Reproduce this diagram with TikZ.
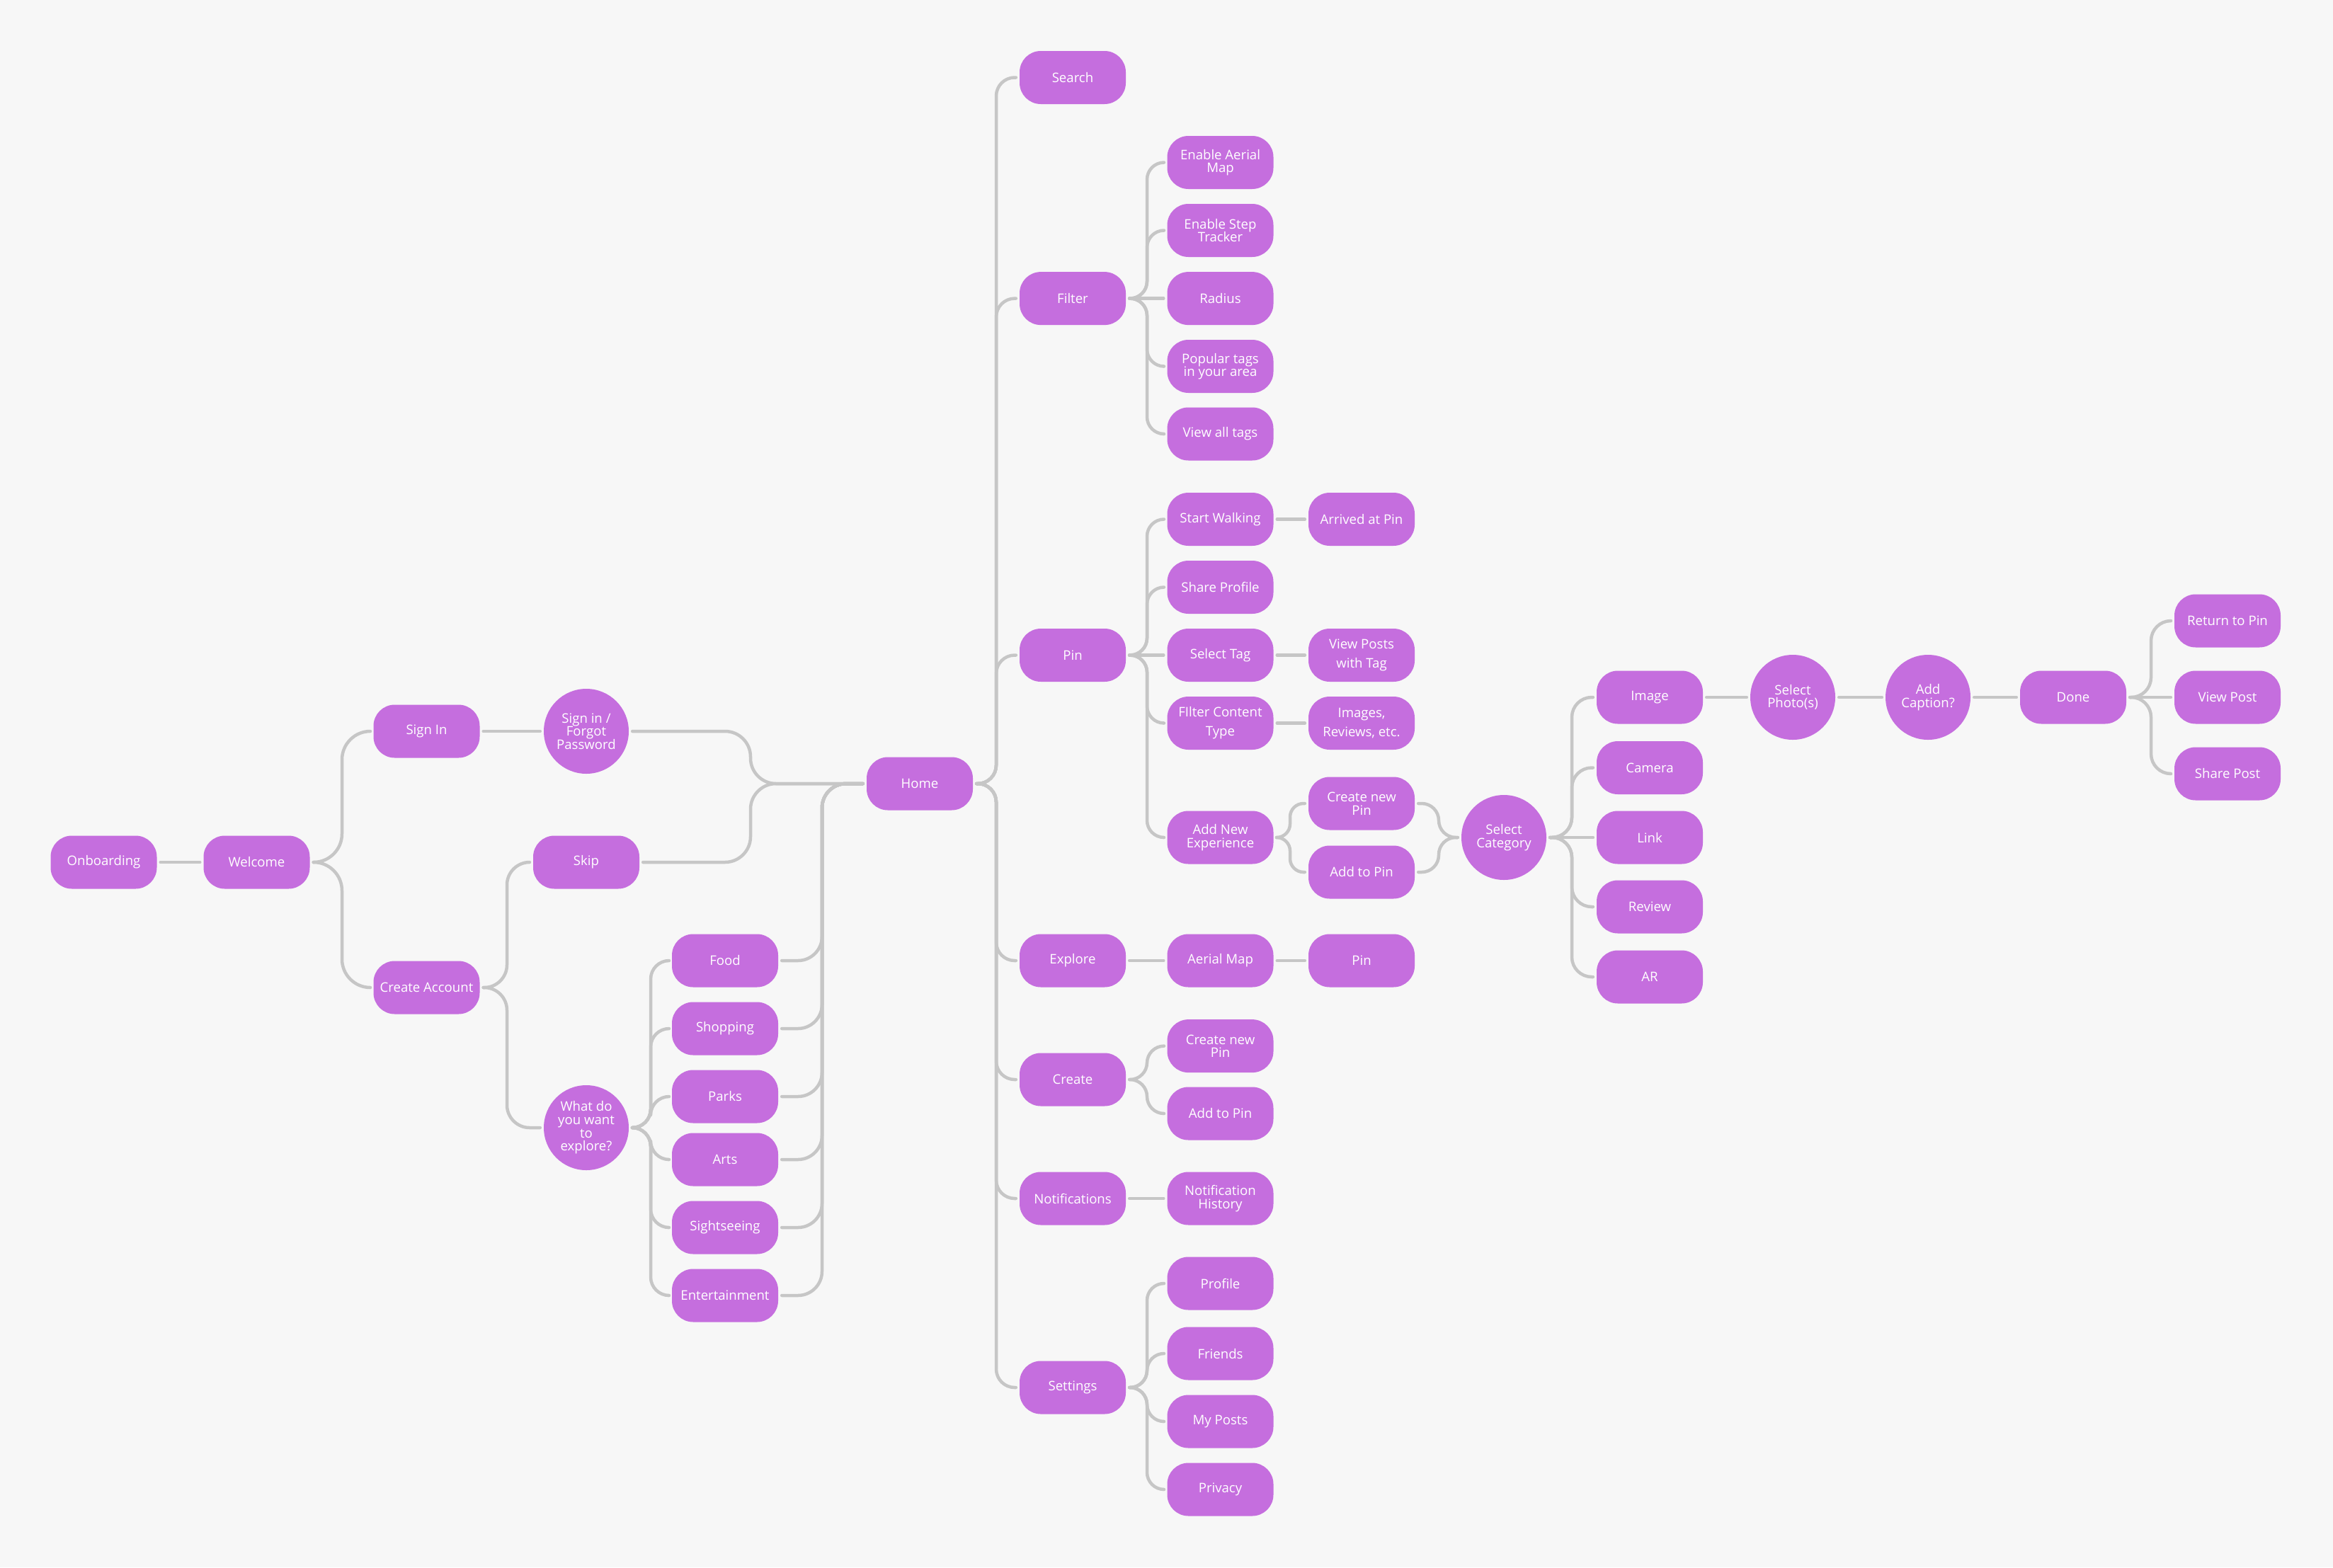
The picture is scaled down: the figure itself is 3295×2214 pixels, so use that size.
\documentclass[tikz,border=0pt]{standalone}
\usepackage{fontspec}
\setmainfont{Open Sans}
\usetikzlibrary{calc}
\definecolor{bgc}{HTML}{F7F7F7}
\definecolor{nodec}{HTML}{C56EDE}
\definecolor{linec}{HTML}{C6C6C6}
\newcommand{\cgap}{5}
% straight connector
\newcommand{\connS}[2]{\draw[conn] ($(#1.east)+(\cgap,0)$) -- ($(#2.west)+(-\cgap,0)$);}
% bracket connector to a lower target
\newcommand{\connD}[4][24]{\draw[conn] ($(#2.east)+(\cgap,0)$) -- ($(#2.east -| #4)+(-#1,0)$)
  .. controls ($(#2.east -| #4)+(-0.45*#1,0)$) and ($(#2.east -| #4)+(0,0.45*#1)$) .. ($(#2.east -| #4)+(0,#1)$)
  -- ($(#3.west -| #4)+(0,-#1)$)
  .. controls ($(#3.west -| #4)+(0,-0.45*#1)$) and ($(#3.west -| #4)+(0.45*#1,0)$) .. ($(#3.west -| #4)+(#1,0)$)
  -- ($(#3.west)+(-\cgap,0)$);}
% bracket connector to an upper target
\newcommand{\connU}[4][24]{\draw[conn] ($(#2.east)+(\cgap,0)$) -- ($(#2.east -| #4)+(-#1,0)$)
  .. controls ($(#2.east -| #4)+(-0.45*#1,0)$) and ($(#2.east -| #4)+(0,-0.45*#1)$) .. ($(#2.east -| #4)+(0,-#1)$)
  -- ($(#3.west -| #4)+(0,#1)$)
  .. controls ($(#3.west -| #4)+(0,0.45*#1)$) and ($(#3.west -| #4)+(0.45*#1,0)$) .. ($(#3.west -| #4)+(#1,0)$)
  -- ($(#3.west)+(-\cgap,0)$);}
\begin{document}
\begin{tikzpicture}[x=1pt,y=-1pt,
  box/.style={rectangle, rounded corners=30pt, minimum width=150pt, minimum height=75pt, inner sep=0pt, fill=nodec, text=white, align=center, font=\fontsize{18.6}{18.6}\selectfont},
  wbox/.style={box, font=\fontsize{18.6}{27}\selectfont},
  circ/.style={circle, minimum size=120pt, inner sep=0pt, fill=nodec, text=white, align=center, font=\fontsize{18.6}{18.6}\selectfont},
  conn/.style={draw=linec, line width=4.5pt, line cap=round, line join=round}]
\fill[bgc] (0,0) rectangle (3295,2214);
\useasboundingbox (0,0) rectangle (3295,2214);

% trunks
\coordinate (tWel) at (483,0);
\coordinate (tCA) at (716,0);
\coordinate (tWhat) at (919,0);
\coordinate (tHL) at (1060,0);
\coordinate (tHC) at (1161,0);
\coordinate (tHome) at (1407,0);
\coordinate (tSub) at (1620,0);
\coordinate (tANE) at (1822,0);
\coordinate (tSCin) at (2032,0);
\coordinate (tSC) at (2220,0);
\coordinate (tDone) at (3038,0);

% left part
\node[box] (onb) at (146.5,1218) {Onboarding};
\node[box] (wel) at (362.5,1218) {Welcome};
\node[box] (signin) at (602.5,1033) {Sign In};
\node[circ] (sf) at (828,1033) {Sign in /\\Forgot\\Password};
\node[box] (ca) at (602.5,1395) {Create Account};
\node[box] (skip) at (828,1218) {Skip};
\node[circ] (what) at (828,1593) {What do\\you want\\to\\explore?};
\node[box] (food) at (1024,1357) {Food};
\node[box] (shop) at (1024,1453) {Shopping};
\node[box] (parks) at (1024,1549) {Parks};
\node[box] (arts) at (1024,1638) {Arts};
\node[box] (sight) at (1024,1734) {Sightseeing};
\node[box] (ent) at (1024,1830) {Entertainment};
\node[box] (home) at (1299,1107) {Home};

% column 2
\node[box] (search) at (1515,109.5) {Search};
\node[box] (filter) at (1515,421.6) {Filter};
\node[box] (pin) at (1515,925.5) {Pin};
\node[box] (explore) at (1515,1357) {Explore};
\node[box] (create) at (1515,1525) {Create};
\node[box] (notif) at (1515,1693) {Notifications};
\node[box] (settings) at (1515,1960) {Settings};

% column 3
\node[box] (eam) at (1723.5,229.5) {Enable Aerial\\Map};
\node[box] (est) at (1723.5,325.5) {Enable Step\\Tracker};
\node[box] (radius) at (1723.5,421.6) {Radius};
\node[box] (pop) at (1723.5,517.5) {Popular tags\\in your area};
\node[box] (vat) at (1723.5,613) {View all tags};
\node[box] (sw) at (1723.5,733.5) {Start Walking};
\node[box] (sp) at (1723.5,829.5) {Share Profile};
\node[box] (st) at (1723.5,925.5) {Select Tag};
\node[wbox] (fct) at (1723.5,1021.5) {FIlter Content\\Type};
\node[box] (ane) at (1723.5,1183) {Add New\\Experience};
\node[box] (am) at (1723.5,1357) {Aerial Map};
\node[box] (cnp2) at (1723.5,1477.6) {Create new\\Pin};
\node[box] (atp2) at (1723.5,1573) {Add to Pin};
\node[box] (nh) at (1723.5,1693) {Notification\\History};
\node[box] (profile) at (1723.5,1813) {Profile};
\node[box] (friends) at (1723.5,1912) {Friends};
\node[box] (myposts) at (1723.5,2008) {My Posts};
\node[box] (privacy) at (1723.5,2104) {Privacy};

% column 4
\node[box] (aap) at (1923,733.5) {Arrived at Pin};
\node[wbox] (vpt) at (1923,925.5) {View Posts\\with Tag};
\node[wbox] (ire) at (1923,1021.5) {Images,\\Reviews, etc.};
\node[box] (cnp) at (1923,1135) {Create new\\Pin};
\node[box] (atp) at (1923,1232) {Add to Pin};
\node[box] (pin2) at (1923,1357) {Pin};

% right part
\node[circ] (sc) at (2124,1183) {Select\\Category};
\node[box] (image) at (2330,985) {Image};
\node[box] (camera) at (2330,1084.5) {Camera};
\node[box] (link) at (2330,1183) {Link};
\node[box] (review) at (2330,1281) {Review};
\node[box] (ar) at (2330,1380) {AR};
\node[circ] (sph) at (2532,985) {Select\\Photo(s)};
\node[circ] (acap) at (2723,985) {Add\\Caption?};
\node[box] (done) at (2928,985) {Done};
\node[box] (rtp) at (3146,877) {Return to Pin};
\node[box] (vp) at (3146,985) {View Post};
\node[box] (share) at (3146,1093) {Share Post};

% connectors: left
\connS{onb}{wel}
\connU[40]{wel}{signin}{tWel}
\connD[40]{wel}{ca}{tWel}
\connS{signin}{sf}
\connU[32]{ca}{skip}{tCA}
\connD[32]{ca}{what}{tCA}
\connU[26]{what}{food}{tWhat}
\connU[26]{what}{shop}{tWhat}
\connU[26]{what}{parks}{tWhat}
\connD[26]{what}{arts}{tWhat}
\connD[26]{what}{sight}{tWhat}
\connD[26]{what}{ent}{tWhat}
\connD[36]{sf}{home}{tHL}
\connU[36]{skip}{home}{tHL}
\connU[34]{food}{home}{tHC}
\connU[34]{shop}{home}{tHC}
\connU[34]{parks}{home}{tHC}
\connU[34]{arts}{home}{tHC}
\connU[34]{sight}{home}{tHC}
\connU[34]{ent}{home}{tHC}

% Home branches
\connU[26]{home}{search}{tHome}
\connU[26]{home}{filter}{tHome}
\connU[26]{home}{pin}{tHome}
\connD[26]{home}{explore}{tHome}
\connD[26]{home}{create}{tHome}
\connD[26]{home}{notif}{tHome}
\connD[26]{home}{settings}{tHome}

% Filter
\connU{filter}{eam}{tSub}
\connU{filter}{est}{tSub}
\connS{filter}{radius}
\connD{filter}{pop}{tSub}
\connD{filter}{vat}{tSub}

% Pin
\connU{pin}{sw}{tSub}
\connU{pin}{sp}{tSub}
\connS{pin}{st}
\connD{pin}{fct}{tSub}
\connD{pin}{ane}{tSub}
\connS{sw}{aap}
\connS{st}{vpt}
\connS{fct}{ire}
\connU[19]{ane}{cnp}{tANE}
\connD[19]{ane}{atp}{tANE}
\connD[24]{cnp}{sc}{tSCin}
\connU[24]{atp}{sc}{tSCin}

% Select Category
\connU[28]{sc}{image}{tSC}
\connU[28]{sc}{camera}{tSC}
\connS{sc}{link}
\connD[28]{sc}{review}{tSC}
\connD[28]{sc}{ar}{tSC}
\connS{image}{sph}
\connS{sph}{acap}
\connS{acap}{done}
\connU[28]{done}{rtp}{tDone}
\connS{done}{vp}
\connD[28]{done}{share}{tDone}

% Explore / Create / Notifications / Settings
\connS{explore}{am}
\connS{am}{pin2}
\connU{create}{cnp2}{tSub}
\connD{create}{atp2}{tSub}
\connS{notif}{nh}
\connU{settings}{profile}{tSub}
\connU{settings}{friends}{tSub}
\connD{settings}{myposts}{tSub}
\connD{settings}{privacy}{tSub}
\end{tikzpicture}
\end{document}
